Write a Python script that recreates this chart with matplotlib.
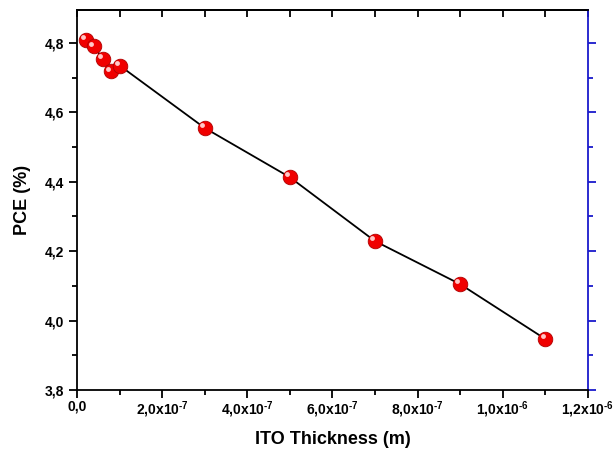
import numpy as np
import matplotlib.pyplot as plt
from matplotlib.ticker import MultipleLocator, FuncFormatter
from matplotlib.transforms import offset_copy

plt.rcParams['font.family'] = ['Liberation Sans', 'DejaVu Sans']
plt.rcParams['mathtext.fontset'] = 'custom'
plt.rcParams['mathtext.rm'] = 'Liberation Sans:bold'
plt.rcParams['mathtext.bf'] = 'Liberation Sans:bold'

# ITO thickness (m) and PCE (%)
thickness = [2e-8, 4e-8, 6e-8, 8e-8, 1e-7, 3e-7, 5e-7, 7e-7, 9e-7, 1.1e-6]
pce = [4.809, 4.790, 4.755, 4.718, 4.735, 4.555, 4.413, 4.229, 4.105, 3.947]


def x_fmt(v, pos):
    if abs(v) < 1e-12:
        return '0,0'
    exp = int(np.floor(np.log10(abs(v))))
    mant = v / 10 ** exp
    return f'{mant:.1f}'.replace('.', ',') + r'x10$^{\text{' + str(exp) + '}}$'


def y_fmt(v, pos):
    return f'{v:.1f}'.replace('.', ',')


fig = plt.figure(figsize=(6.13, 4.53), dpi=100)
ax = fig.add_axes([0.1256, 0.139, 0.8334, 0.839])

ax.plot(thickness, pce, color='black', lw=1.3, zorder=2)
ax.plot(thickness, pce, 'o', ms=10.5, mfc='#f00000', mec='#b00000', mew=0.6, zorder=3)
hl = offset_copy(ax.transData, fig=fig, x=-2, y=2, units='points')
ax.plot(thickness, pce, 'o', ms=3.5, mfc='#ffc8c8', mec='none', transform=hl, zorder=4)

ax.set_xlim(0, 1.2e-6)
ax.set_ylim(3.8, 4.895)

ax.xaxis.set_major_locator(MultipleLocator(2e-7))
ax.xaxis.set_minor_locator(MultipleLocator(1e-7))
ax.yaxis.set_major_locator(MultipleLocator(0.2))
ax.yaxis.set_minor_locator(MultipleLocator(0.1))
ax.xaxis.set_major_formatter(FuncFormatter(x_fmt))
ax.yaxis.set_major_formatter(FuncFormatter(y_fmt))

ax.tick_params(axis='both', which='major', direction='out', length=6, width=1.3,
               labelsize=10)
ax.tick_params(axis='x', which='major', pad=1)
ax.tick_params(axis='both', which='minor', direction='out', length=3.5, width=1.3)
for lab in ax.get_xticklabels() + ax.get_yticklabels():
    lab.set_fontweight('bold')

for s in ['left', 'bottom', 'top']:
    ax.spines[s].set_linewidth(1.3)
ax.spines['right'].set_visible(False)

# top axis: inward ticks every 1e-7, no labels
top = ax.secondary_xaxis('top')
top.xaxis.set_major_locator(MultipleLocator(1e-7))
top.tick_params(direction='in', length=5, width=1.3, labeltop=False)
top.spines['top'].set_linewidth(1.3)

# right axis in blue
right = ax.secondary_yaxis('right')
right.yaxis.set_major_locator(MultipleLocator(0.2))
right.yaxis.set_minor_locator(MultipleLocator(0.1))
right.tick_params(which='major', direction='out', length=6, width=1.3,
                  color='#1a1acc', labelright=False)
right.tick_params(which='minor', direction='out', length=3.5, width=1.3,
                  color='#1a1acc')
right.spines['right'].set_color('#1a1acc')
right.spines['right'].set_linewidth(1.3)

ax.set_xlabel('ITO Thickness (m)', fontsize=13, fontweight='bold', labelpad=8)
ax.set_ylabel('PCE (%)', fontsize=13, fontweight='bold', labelpad=10)

fig.savefig('out.png', dpi=100)
